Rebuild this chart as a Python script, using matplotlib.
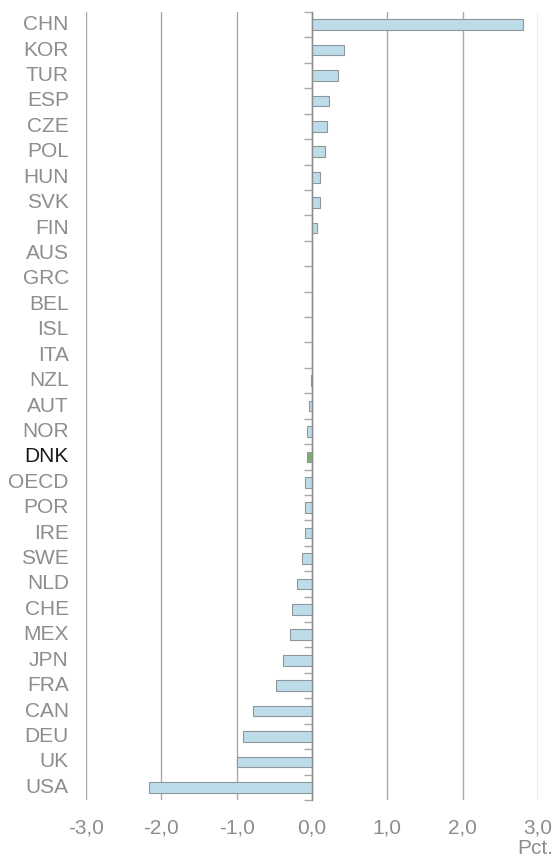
import numpy as np
import matplotlib
matplotlib.use("Agg")
import matplotlib.pyplot as plt
from matplotlib.ticker import FixedLocator, FuncFormatter

plt.rcParams['font.family'] = ['Liberation Sans', 'DejaVu Sans']

# Lande, ovenfra og ned
lande = ['CHN', 'KOR', 'TUR', 'ESP', 'CZE', 'POL', 'HUN', 'SVK', 'FIN', 'AUS',
         'GRC', 'BEL', 'ISL', 'ITA', 'NZL', 'AUT', 'NOR', 'DNK', 'OECD', 'POR',
         'IRE', 'SWE', 'NLD', 'CHE', 'MEX', 'JPN', 'FRA', 'CAN', 'DEU', 'UK', 'USA']
# Ændring i pct.
vaerdier = [2.80, 0.42, 0.34, 0.23, 0.20, 0.17, 0.11, 0.11, 0.06, 0.0,
            0.0, 0.0, 0.0, 0.0, -0.01, -0.04, -0.065, -0.065, -0.09, -0.09,
            -0.09, -0.13, -0.20, -0.26, -0.29, -0.38, -0.48, -0.78, -0.91, -1.00, -2.17]
x_ticks = [-3, -2, -1, 0, 1, 2, 3]
fremhaev = 'DNK'

graa_tekst = '#8d8d8d'
blaa = '#bddcea'
groen = '#7fae74'
kant = '#8e959b'

fig = plt.figure(figsize=(5.56, 8.64), dpi=100, facecolor='white')
ax = fig.add_axes([86 / 556, 1 - 800 / 864, (538 - 86) / 556, (800 - 12) / 864])

y = np.arange(len(lande))
farver = [groen if l == fremhaev else blaa for l in lande]
ax.barh(y, vaerdier, height=0.42, color=farver, edgecolor=kant, linewidth=0.8, zorder=3)

ax.set_ylim(len(lande) - 0.5, -0.5)
ax.set_xlim(-3, 3)

# lodrette gitterlinjer
ax.set_xticks(x_ticks)
ax.xaxis.set_major_formatter(FuncFormatter(lambda v, p: f"{v:.1f}".replace('.', ',')))
ax.grid(axis='x', color='#a9a9a9', linewidth=1.0, zorder=0)
ax.tick_params(axis='x', length=0, pad=13, labelsize=15, labelcolor=graa_tekst)

# nul-aksen med små streger mellem kategorierne
for s in ['top', 'right', 'bottom']:
    ax.spines[s].set_visible(False)
ax.spines['left'].set_position(('data', 0))
ax.spines['left'].set_color('#8c8c8c')
ax.spines['left'].set_linewidth(1.0)
ax.spines['left'].set_zorder(4)
ax.yaxis.set_major_locator(FixedLocator([]))
ax.yaxis.set_minor_locator(FixedLocator(np.arange(len(lande) + 1) - 0.5))
ax.tick_params(axis='y', which='minor', length=6, width=1.0, color='#a9a9a9', direction='out')

# kategorinavne i venstre side
for i, l in enumerate(lande):
    ax.text(-0.038, i, l, transform=ax.get_yaxis_transform(), ha='right', va='center',
            fontsize=15, color='#1a1a1a' if l == fremhaev else graa_tekst)

fig.text(553 / 556, 1 - 848 / 864, 'Pct.', ha='right', va='center', fontsize=15, color=graa_tekst)

fig.savefig('out.png', dpi=100, facecolor='white')
